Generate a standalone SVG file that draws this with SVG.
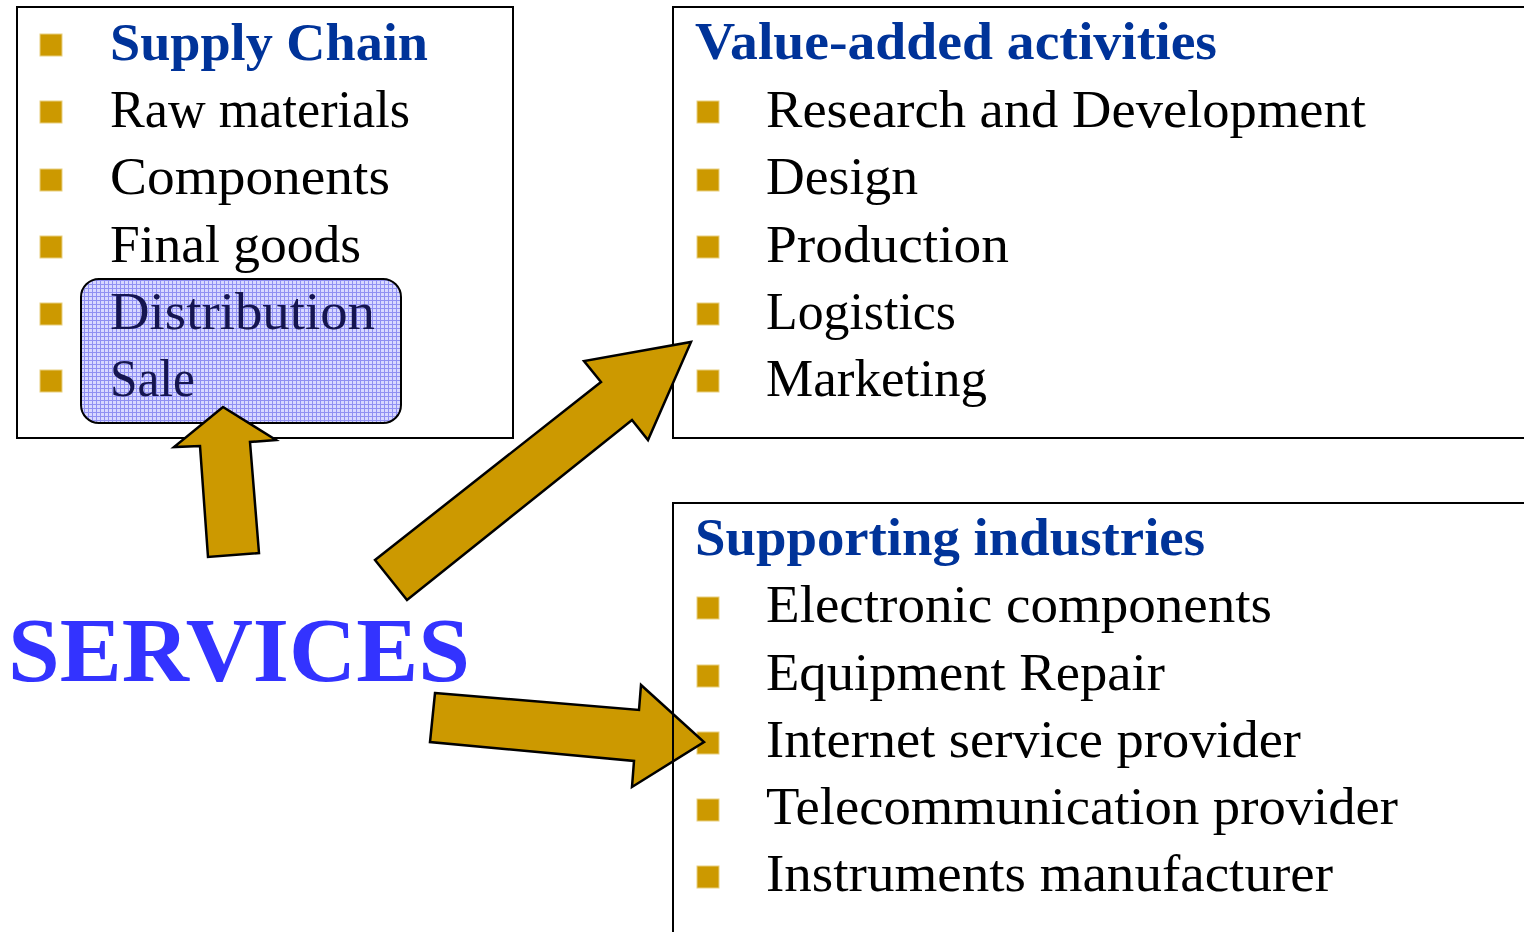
<svg xmlns="http://www.w3.org/2000/svg" width="1524" height="932" viewBox="0 0 1524 932">
<style>
.box{fill:#fff;stroke:#000;stroke-width:2}
.bul{fill:#cc9900;stroke:#e8cf80;stroke-width:1}
.t{font-family:"Liberation Serif","Times New Roman",serif;font-size:53px;fill:#000}
.h{font-family:"Liberation Serif","Times New Roman",serif;font-size:53px;font-weight:bold;fill:#003399}
.hl{font-family:"Liberation Serif","Times New Roman",serif;font-size:53px;fill:#151550}
.arr{fill:#cc9900;stroke:#000;stroke-width:2.5;stroke-linejoin:miter}
.svc{font-family:"Liberation Serif","Times New Roman",serif;font-size:92px;font-weight:bold;fill:#3333ff}
</style>
<defs>
<pattern id="dots" width="4" height="4" patternUnits="userSpaceOnUse">
<rect width="4" height="4" fill="#d8d8ff"/>
<rect width="4" height="1" fill="#9090f2"/>
<rect width="1" height="4" fill="#9090f2"/>
</pattern>
</defs>
<g id="supply-chain">
<rect class="box" x="17" y="7" width="496" height="431"/>
<rect x="81" y="279" width="320" height="144" rx="18" fill="url(#dots)" stroke="#000" stroke-width="2"/>
<rect class="bul" x="40" y="34" width="22" height="22"/>
<rect class="bul" x="40" y="101" width="22" height="22"/>
<rect class="bul" x="40" y="169" width="22" height="22"/>
<rect class="bul" x="40" y="236" width="22" height="22"/>
<rect class="bul" x="40" y="303" width="22" height="22"/>
<rect class="bul" x="40" y="370" width="22" height="22"/>
<text class="h" x="110" y="60" textLength="318" lengthAdjust="spacingAndGlyphs">Supply Chain</text>
<text class="t" x="110" y="127" textLength="300" lengthAdjust="spacingAndGlyphs">Raw materials</text>
<text class="t" x="110" y="194" textLength="280" lengthAdjust="spacingAndGlyphs">Components</text>
<text class="t" x="110" y="262" textLength="251" lengthAdjust="spacingAndGlyphs">Final goods</text>
<text class="hl" x="110" y="329" textLength="265" lengthAdjust="spacingAndGlyphs">Distribution</text>
<text class="hl" x="110" y="396" textLength="85" lengthAdjust="spacingAndGlyphs">Sale</text>
</g>
<g id="value-added">
<rect class="box" x="673" y="7" width="900" height="431"/>
<text class="h" x="695" y="59" textLength="522" lengthAdjust="spacingAndGlyphs">Value-added activities</text>
<rect class="bul" x="697" y="101" width="22" height="22"/>
<rect class="bul" x="697" y="169" width="22" height="22"/>
<rect class="bul" x="697" y="236" width="22" height="22"/>
<rect class="bul" x="697" y="303" width="22" height="22"/>
<rect class="bul" x="697" y="370" width="22" height="22"/>
<text class="t" x="766" y="127" textLength="600" lengthAdjust="spacingAndGlyphs">Research and Development</text>
<text class="t" x="766" y="194" textLength="152" lengthAdjust="spacingAndGlyphs">Design</text>
<text class="t" x="766" y="262" textLength="243" lengthAdjust="spacingAndGlyphs">Production</text>
<text class="t" x="766" y="329" textLength="190" lengthAdjust="spacingAndGlyphs">Logistics</text>
<text class="t" x="766" y="396" textLength="221" lengthAdjust="spacingAndGlyphs">Marketing</text>
</g>
<g id="supporting">
<rect class="box" x="673" y="503" width="900" height="500"/>
<text class="h" x="695" y="555" textLength="510" lengthAdjust="spacingAndGlyphs">Supporting industries</text>
<rect class="bul" x="697" y="597" width="22" height="22"/>
<rect class="bul" x="697" y="665" width="22" height="22"/>
<rect class="bul" x="697" y="732" width="22" height="22"/>
<rect class="bul" x="697" y="799" width="22" height="22"/>
<rect class="bul" x="697" y="866" width="22" height="22"/>
<text class="t" x="766" y="622" textLength="506" lengthAdjust="spacingAndGlyphs">Electronic components</text>
<text class="t" x="766" y="690" textLength="399" lengthAdjust="spacingAndGlyphs">Equipment Repair</text>
<text class="t" x="766" y="757" textLength="535" lengthAdjust="spacingAndGlyphs">Internet service provider</text>
<text class="t" x="766" y="824" textLength="632" lengthAdjust="spacingAndGlyphs">Telecommunication provider</text>
<text class="t" x="766" y="891" textLength="567" lengthAdjust="spacingAndGlyphs">Instruments manufacturer</text>
</g>
<g id="services">
<text class="svc" x="8" y="681" textLength="462" lengthAdjust="spacingAndGlyphs">SERVICES</text>
</g>
<g id="connectors">
<polygon class="arr" points="223,407 276,440 250,442 259,553 208,557 200,446 174,447"/>
<polygon class="arr" points="375,560 601,382 584,361 691,342 648,440 632,420 407,600"/>
<polygon class="arr" points="435,693 639,710 641,685 704,742 632,787 634,761 430,742"/>
</g>
<g id="supporting-border">
<line x1="673" y1="503" x2="673" y2="932" stroke="#000" stroke-width="2"/>
</g>
</svg>
